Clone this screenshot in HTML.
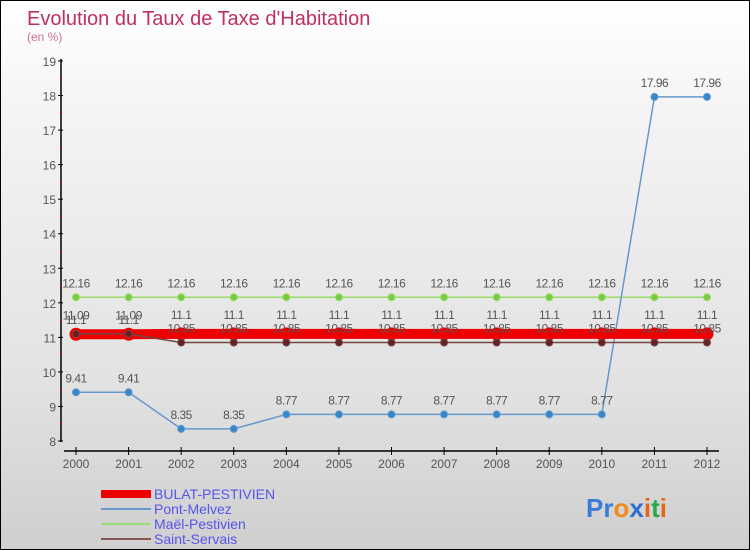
<!DOCTYPE html>
<html><head><meta charset="utf-8"><style>
body{margin:0}
#c{width:748px;height:548px;border:1px solid #000;background:linear-gradient(#fff,#f4f4f4 20%,#e2e2e2 70%,#cfcfcf);position:relative;font-family:"Liberation Sans",sans-serif;overflow:hidden}
svg text{font-family:"Liberation Sans",sans-serif}
</style></head><body>
<div id="c">
<svg id="s" width="748" height="548" xmlns="http://www.w3.org/2000/svg">
<text x="26" y="24" font-size="20" fill="#c0305e">Evolution du Taux de Taxe d'Habitation</text>
<text x="26" y="40" font-size="12" fill="#d0708e">(en %)</text>
<g id="axes"></g><g id="series"></g>
<g>
<rect x="100" y="489" width="50" height="8" fill="#e00"/>
<text x="153" y="498" font-size="14" fill="#5555ee">BULAT-PESTIVIEN</text>
<line x1="100" y1="508" x2="150" y2="508" stroke="#6699cc" stroke-width="2"/>
<text x="153" y="513" font-size="14" fill="#5555ee">Pont-Melvez</text>
<line x1="100" y1="523" x2="150" y2="523" stroke="#99dd77" stroke-width="2"/>
<text x="153" y="528" font-size="14" fill="#5555ee">Maël-Pestivien</text>
<line x1="100" y1="538" x2="150" y2="538" stroke="#885555" stroke-width="2"/>
<text x="153" y="543" font-size="14" fill="#5555ee">Saint-Servais</text>
</g>
<g font-size="26" font-weight="bold">
<text x="585" y="516"><tspan fill="#3a7bd5">Pr</tspan><tspan fill="#f08a1c">o</tspan><tspan fill="#2a6fd0">x</tspan><tspan fill="#e8641b">i</tspan><tspan fill="#2aa84a">t</tspan><tspan fill="#e8641b">i</tspan></text>
</g>
</svg>
</div>
<script>
const years=[2000,2001,2002,2003,2004,2005,2006,2007,2008,2009,2010,2011,2012];
const yTicks=[8,9,10,11,12,13,14,15,16,17,18,19];
const bulat=[11.09,11.09,11.1,11.1,11.1,11.1,11.1,11.1,11.1,11.1,11.1,11.1,11.1];
const pont=[9.41,9.41,8.35,8.35,8.77,8.77,8.77,8.77,8.77,8.77,8.77,17.96,17.96];
const mael=[12.16,12.16,12.16,12.16,12.16,12.16,12.16,12.16,12.16,12.16,12.16,12.16,12.16];
const saint=[11.1,11.1,10.85,10.85,10.85,10.85,10.85,10.85,10.85,10.85,10.85,10.85,10.85];
const NS="http://www.w3.org/2000/svg";
const X=i=>75+i*(631/12);
const Y=v=>440-(v-8)*(380/11);
function mk(t,a,p){const e=document.createElementNS(NS,t);for(const k in a)e.setAttribute(k,a[k]);p.appendChild(e);return e;}
const ax=document.getElementById('axes');
let l=mk('line',{x1:60,y1:58,x2:60,y2:441,stroke:'#000','stroke-width':1.5},ax);


l=mk('line',{x1:63,y1:450,x2:718,y2:450,stroke:'#000','stroke-width':1.5},ax);


yTicks.forEach(v=>{
 mk('line',{x1:57,y1:Y(v),x2:62,y2:Y(v),stroke:'#000'},ax);
 if(v<19)mk('line',{x1:59,y1:Y(v+0.5),x2:61,y2:Y(v+0.5),stroke:'#e00'},ax);
 const t=mk('text',{x:55,y:Y(v)+5,'font-size':12,fill:'#555','text-anchor':'end'},ax);t.textContent=v;
 
 
});
years.forEach((y,i)=>{
 mk('line',{x1:X(i),y1:446,x2:X(i),y2:454,stroke:'#000'},ax);
 const t=mk('text',{x:X(i),y:467,'font-size':12,fill:'#555','text-anchor':'middle'},ax);t.textContent=y;
 
 
});
const sg=document.getElementById('series');
function draw(vals,name,col,w,r,dot,dy){
 const g=mk('g',{},sg);
 
 
 mk('polyline',{points:vals.map((v,i)=>X(i)+','+Y(v)).join(' '),fill:'none',stroke:col,'stroke-width':w},g);
 vals.forEach((v,i)=>{
  const c=mk('circle',{cx:X(i),cy:Y(v),r:r,fill:dot,stroke:col,'stroke-width':1},g);
  
  
  const t=mk('text',{x:X(i),y:Y(v)+dy,'font-size':12,fill:'#555','text-anchor':'middle','letter-spacing':'-0.5'},g);t.textContent=v;
  
  
 });
}
draw(mael,'mael-pestivien','#99dd66',1.5,3.5,'#77cc44',-10);
draw(pont,'pont-melvez','#6699cc',1.5,3.5,'#3388cc',-10);
draw(bulat,'bulat-pestivien','#ee0000',10,6,'#ee0000',-15);
draw(saint,'saint-servais','#774444',1.5,3.5,'#662222',-10);
</script>
</body></html>
